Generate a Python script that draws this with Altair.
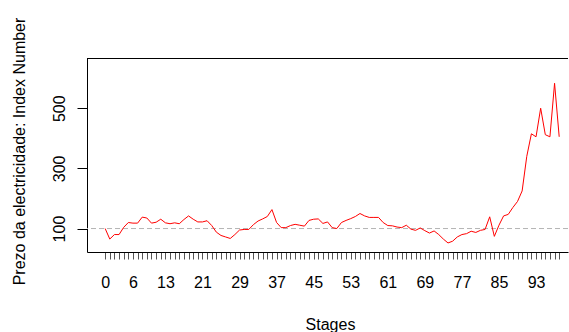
import altair as alt
import pandas as pd

# Electricity price index by stage
stages = list(range(99))
index_values = [
    100, 65, 80, 80, 104, 120, 118, 118, 138, 135,
    118, 121, 131, 119, 116, 119, 116, 130, 142, 131,
    122, 122, 126, 110, 88, 77, 72, 67, 80, 95,
    97, 97, 113, 125, 132, 140, 163, 120, 103, 103,
    110, 114, 111, 108, 127, 131, 132, 117, 122, 103,
    100, 120, 127, 133, 140, 150, 142, 137, 137, 137,
    120, 110, 109, 105, 103, 111, 98, 94, 102, 93,
    85, 92, 80, 65, 52, 58, 72, 80, 83, 91,
    87, 94, 97, 139, 74, 111, 142, 147, 170, 190,
    225, 340, 415, 405, 500, 412, 405, 583, 405,
]
shown_stage_labels = [0, 6, 13, 21, 29, 37, 45, 53, 61, 69, 77, 85, 93]
y_tick_values = [100, 200, 300, 400, 500, 600]
y_label_values = [100, 300, 500]
reference_level = 100

df = pd.DataFrame({"stage": stages, "index": index_values})
ref_df = pd.DataFrame({"level": [reference_level]})
frame_df = pd.DataFrame({"k": [0]})

W, H = 481, 194
FONT = "Liberation Sans"

x_scale = alt.Scale(domain=[-3.92, 99.9], nice=False, zero=False)
y_scale = alt.Scale(domain=[22, 667], nice=False, zero=False)

x_label_expr = (
    "indexof(" + str(shown_stage_labels) + ", datum.value) >= 0 ? datum.label : ''"
)
y_label_expr = (
    "indexof(" + str(y_label_values) + ", datum.value) >= 0 ? datum.label : ''"
)

x_axis = alt.Axis(
    values=stages,
    labelExpr=x_label_expr,
    format="d",
    labelOverlap=False,
    labelFlush=False,
    labelBound=False,
    grid=False,
    tickSize=7,
    tickColor="#555555",
    tickWidth=1,
    domainColor="black",
    labelFont=FONT,
    labelFontSize=16,
    labelColor="black",
    labelPadding=15,
    title="Stages",
    titleFont=FONT,
    titleFontSize=16,
    titleFontWeight="normal",
    titleColor="black",
    titleX=243,
    titleY=77,
    titleAlign="center",
    titleBaseline="alphabetic",
)

y_axis = alt.Axis(
    values=y_tick_values,
    labelExpr=y_label_expr,
    format="d",
    labelOverlap=False,
    labelFlush=False,
    labelBound=False,
    grid=False,
    tickSize=10,
    tickColor="black",
    domainColor="black",
    labelAngle=270,
    labelAlign="center",
    labelBaseline="bottom",
    labelPadding=10,
    labelFont=FONT,
    labelFontSize=16,
    labelColor="black",
    title="Prezo da electricidade: Index Number",
    titleFont=FONT,
    titleFontSize=16,
    titleFontWeight="normal",
    titleColor="black",
    titleAngle=270,
    titleX=-68,
    titleY=93,
    titleAlign="center",
    titleBaseline="middle",
)

price_line = alt.Chart(df).mark_line(color="#ff0000", strokeWidth=1).encode(
    x=alt.X("stage:Q", scale=x_scale, axis=x_axis),
    y=alt.Y("index:Q", scale=y_scale, axis=y_axis),
)

ref_line = alt.Chart(ref_df).mark_rule(
    color="#b4b4b4", strokeWidth=1, strokeDash=[5, 3]
).encode(y=alt.Y("level:Q", scale=y_scale))

top_edge = alt.Chart(frame_df).mark_rule(color="black", strokeWidth=1).encode(
    x=alt.value(0), x2=alt.value(W), y=alt.value(0.5)
)

chart = (
    alt.layer(ref_line, price_line, top_edge)
    .properties(
        width=W,
        height=H,
        autosize=alt.AutoSizeParams(type="none"),
        padding={"left": 87, "top": 58, "right": 1, "bottom": 80},
        background="white",
    )
    .configure_view(stroke=None)
)

chart.save("out.html", embed_options={"renderer": "svg", "actions": False})
